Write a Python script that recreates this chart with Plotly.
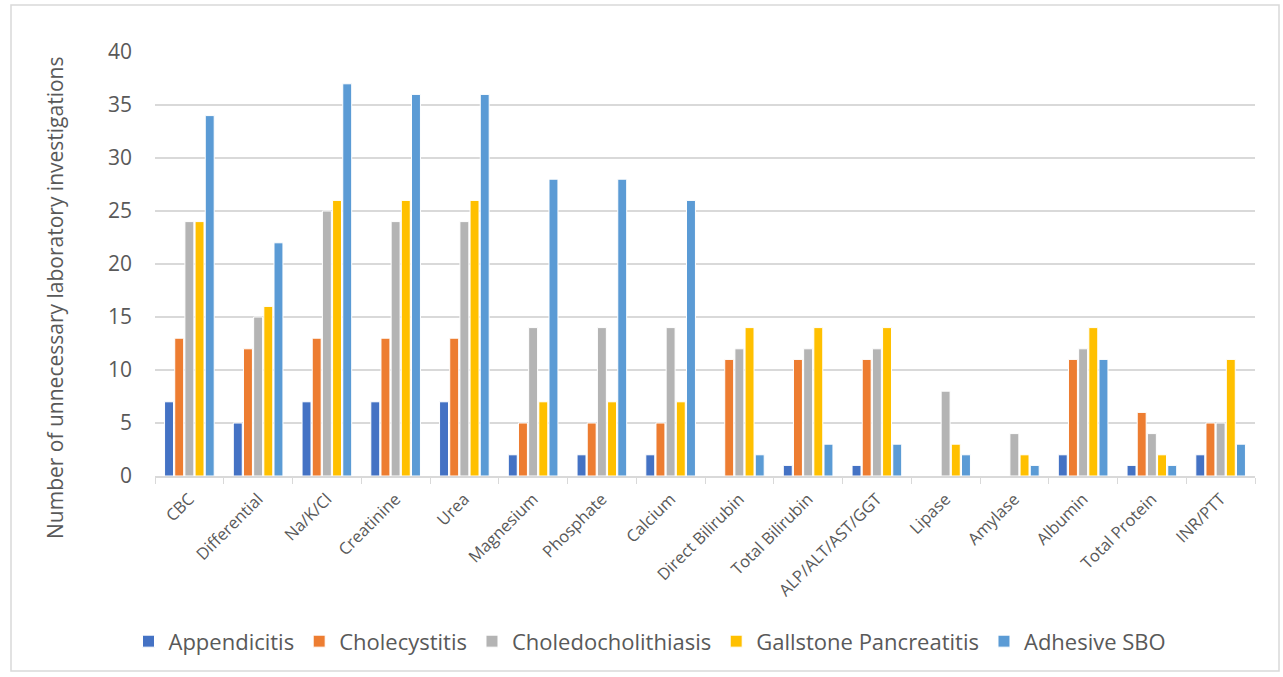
import plotly.graph_objects as go

categories = ["CBC", "Differential", "Na/K/Cl", "Creatinine", "Urea", "Magnesium",
              "Phosphate", "Calcium", "Direct Bilirubin", "Total Bilirubin",
              "ALP/ALT/AST/GGT", "Lipase", "Amylase", "Albumin", "Total Protein", "INR/PTT"]

appendicitis = [7, 5, 7, 7, 7, 2, 2, 2, 0, 1, 1, 0, 0, 2, 1, 2]
cholecystitis = [13, 12, 13, 13, 13, 5, 5, 5, 11, 11, 11, 0, 0, 11, 6, 5]
choledocholithiasis = [24, 15, 25, 24, 24, 14, 14, 14, 12, 12, 12, 8, 4, 12, 4, 5]
gallstone_pancreatitis = [24, 16, 26, 26, 26, 7, 7, 7, 14, 14, 14, 3, 2, 14, 2, 11]
adhesive_sbo = [34, 22, 37, 36, 36, 28, 28, 26, 2, 3, 3, 2, 1, 11, 1, 3]

series = [
    ("Appendicitis", appendicitis, "#4472C4"),
    ("Cholecystitis", cholecystitis, "#ED7D31"),
    ("Choledocholithiasis", choledocholithiasis, "#B4B4B4"),
    ("Gallstone Pancreatitis", gallstone_pancreatitis, "#FFC000"),
    ("Adhesive SBO", adhesive_sbo, "#5B9BD5"),
]

font_family = "Open Sans, Noto Sans, sans-serif"
text_color = "#595959"

fig = go.Figure()
for name, values, color in series:
    fig.add_trace(go.Bar(
        x=categories, y=values, name=name,
        marker=dict(color=color, line=dict(color="white", width=1)),
    ))

fig.update_layout(
    width=1283, height=677,
    margin=dict(l=155, r=28, t=52, b=201),
    paper_bgcolor="white", plot_bgcolor="white",
    barmode="group", bargap=0.26, bargroupgap=0.12,
    font=dict(family=font_family, color=text_color),
    legend=dict(orientation="h", x=0.45, xanchor="center", y=-0.39, yanchor="middle",
                font=dict(size=22, color=text_color), itemwidth=30,
                traceorder="normal"),
    xaxis=dict(
        tickangle=-45, tickfont=dict(size=16.5, color=text_color),
        showline=True, linecolor="#D9D9D9", linewidth=2,
        ticks="outside", tickson="boundaries", ticklen=6, tickcolor="#D9D9D9",
        showgrid=False, ticklabelstandoff=5,
    ),
    yaxis=dict(
        range=[0, 40], dtick=5, tickfont=dict(size=21, color=text_color),
        showgrid=True, gridcolor="#D9D9D9", gridwidth=1.5,
        zeroline=False, ticklabelstandoff=22,
    ),
    annotations=[dict(
        text="Number of unnecessary laboratory investigations",
        xref="paper", yref="paper", x=(55 - 155) / 1100, y=(476 - 298) / 424,
        textangle=-90, showarrow=False, xanchor="center", yanchor="middle",
        font=dict(size=21, color=text_color),
    )],
    shapes=[dict(
        type="rect", xref="paper", yref="paper",
        x0=(11 - 155) / 1100, x1=(1279 - 155) / 1100,
        y0=(476 - 671) / 424, y1=(476 - 5) / 424,
        line=dict(color="#D9D9D9", width=1.5), fillcolor="rgba(0,0,0,0)", layer="below",
    )],
)

fig.write_html("out.html")
